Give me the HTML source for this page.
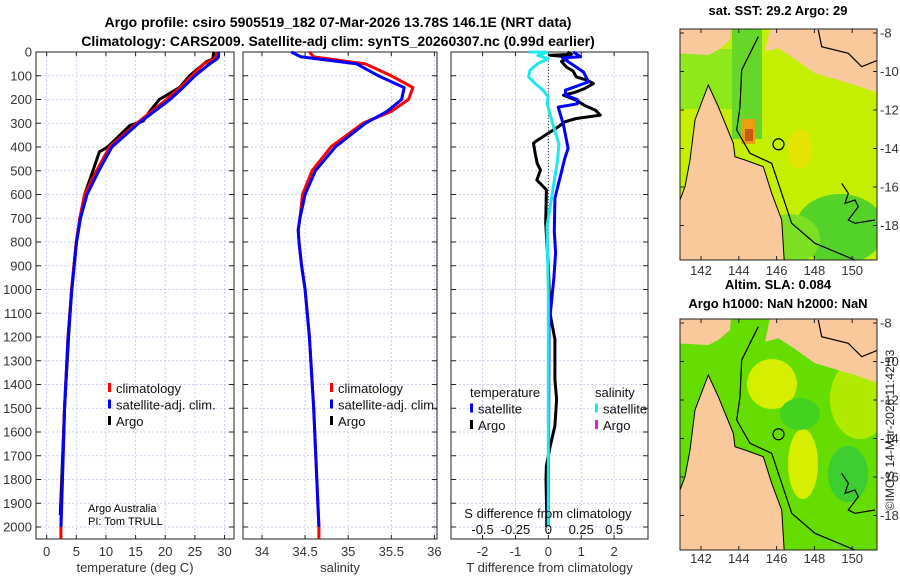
<!DOCTYPE html>
<html><head><meta charset="utf-8"><style>
body{margin:0;background:#fff;}
svg{display:block;font-family:"Liberation Sans","DejaVu Sans",sans-serif;}
</style></head><body>
<svg id="fig" width="900" height="580" viewBox="0 0 900 580" xmlns="http://www.w3.org/2000/svg">
<rect width="900" height="580" fill="#fff"/>
<text x="338" y="27" font-size="14" font-weight="bold" text-anchor="middle">Argo profile: csiro 5905519_182 07-Mar-2026 13.78S 146.1E (NRT data)</text>
<text x="338" y="46" font-size="14" font-weight="bold" text-anchor="middle">Climatology: CARS2009. Satellite-adj clim: synTS_20260307.nc (0.99d earlier)</text>
<g id="p1"></g>
<g id="p2"></g>
<g id="p3"></g>
<g id="maps"></g>
<text x="88" y="512" font-size="11">Argo Australia</text>
<text x="88" y="525" font-size="11">PI: Tom TRULL</text>
<text transform="translate(894,430) rotate(-90)" font-size="12" text-anchor="middle" fill="#222">©IMOS 14-Mar-2026 11:42:53</text>
</svg>
<script>
// ---- data ----
const depthTicks=[0,100,200,300,400,500,600,700,800,900,1000,1100,1200,1300,1400,1500,1600,1700,1800,1900,2000];
const tTicks=[0,5,10,15,20,25,30];
const sTicks=[34,34.5,35,35.5,36];
const sTickLabels=["34","34.5","35","35.5","36"];
const dTTicks=[-2,-1,0,1,2];
const dSTicks=[-0.5,-0.25,0,0.25,0.5];
const dSTickLabels=["-0.5","-0.25","0","0.25","0.5"];
const climTDepth=[0,20,30,50,100,150,200,300,400,500,600,700,800,1000,1200,1500,2000,2050];
const climT=[28.7,28.6,28.2,26.5,24.5,22.5,20.2,15.2,10.6,8.4,6.4,5.6,5.0,4.2,3.6,3.0,2.4,2.4];
const satTDepth=[0,20,30,50,100,150,200,300,400,500,600,700,800,1000,1200,1500,2000];
const satT=[29.0,29.0,28.7,27.5,25.0,23.0,20.8,15.5,11.0,8.8,6.8,5.7,5.05,4.25,3.62,3.02,2.42];
const argoTDepth=[0,30,40,100,150,200,250,290,310,400,420,500,600,700,800,1000,1200,1500,1950];
const argoT=[28.2,28.0,27.0,24.1,22.4,19.0,17.4,16.3,14.0,10.3,8.9,7.8,6.4,5.6,5.0,4.2,3.7,3.0,2.3];
const climSDepth=[0,20,50,100,150,200,250,300,400,500,600,700,750,800,900,1000,1200,1500,2000,2050];
const climS=[34.55,34.6,35.2,35.5,35.75,35.7,35.5,35.17,34.8,34.58,34.47,34.44,34.42,34.43,34.46,34.5,34.55,34.6,34.66,34.66];
const satSDepth=[0,20,50,100,150,200,250,300,400,500,600,700,750,800,900,1000,1200,1500,2000];
const satS=[34.34,34.45,35.1,35.35,35.65,35.62,35.45,35.2,34.85,34.62,34.5,34.44,34.42,34.43,34.46,34.5,34.55,34.6,34.66];
const dTsatDepth=[0,20,25,84,126,161,182,200,218,232,308,406,448,616,756,846,950,1157,1500,2000];
const dTsat=[0.76,0.98,0.43,1.07,1.22,0.52,0.52,0.88,0.88,0.3,0.46,0.6,0.5,0.2,0.18,0.22,0.17,0.02,0.01,0.0];
const dTargoDepth=[0,10,14,21,40,63,80,105,120,133,154,170,182,203,225,245,266,280,294,315,378,385,427,469,497,539,580,720,900,1100,1210,1378,1462,1574,1658,1742,1798,1938,2000];
const dTargo=[0.58,0.7,0.06,0.65,0.4,0.55,0.75,0.85,1.2,1.37,1.1,0.8,0.46,0.85,1.1,1.43,1.58,0.85,0.5,0.3,-0.4,-0.45,-0.4,-0.34,-0.24,-0.35,-0.06,-0.08,0.0,0.05,0.2,0.2,0.25,0.2,0.06,-0.06,-0.07,-0.05,-0.05];
const dSsatDepth=[0,1,15,28,49,77,105,133,161,189,217,315,385,455,595,735,1000,1500,2000];
const dSsat=[-0.15,-0.01,-0.08,0.0,-0.08,-0.14,-0.15,-0.1,-0.04,0.0,-0.01,0.04,0.08,0.07,0.03,-0.01,0.0,0.0,0.0];

const NS="http://www.w3.org/2000/svg";
function mk(tag,attrs,parent){const e=document.createElementNS(NS,tag);for(const k in attrs)e.setAttribute(k,attrs[k]);parent.appendChild(e);return e;}
const Y0=52,YB=539;
const yD=d=>Y0+d*0.2375;
function panel(g,x0,x1,xmin,xmax){
  const sx=v=>x0+(v-xmin)/(xmax-xmin)*(x1-x0);
  return sx;
}
function frame(g,x0,x1,sx,ticks,labels,showDepth,xlabel){
  ticks.forEach((t,i)=>{const x=sx(t);
    const l=mk('line',{x1:x,x2:x,y1:Y0,y2:YB,stroke:'#b8c4ee','stroke-width':0.8,'stroke-dasharray':'2,2'},g);
    
    mk('line',{x1:x,x2:x,y1:Y0,y2:Y0+4,stroke:'#222'},g);mk('line',{x1:x,x2:x,y1:YB,y2:YB-4,stroke:'#222'},g);
    const tx=mk('text',{x:x,y:556,'font-size':13,'text-anchor':'middle',fill:'#333'},g);tx.textContent=labels[i];
    });
  depthTicks.forEach(d=>{const y=yD(d);
    const l=mk('line',{x1:x0,x2:x1,y1:y,y2:y,stroke:'#b8c4ee','stroke-width':0.8,'stroke-dasharray':'2,2'},g);
    
    mk('line',{x1:x0,x2:x0+5,y1:y,y2:y,stroke:'#222'},g);mk('line',{x1:x1,x2:x1-5,y1:y,y2:y,stroke:'#222'},g);
    if(showDepth){const t=mk('text',{x:x0-4,y:y+4.5,'font-size':13,'text-anchor':'end',fill:'#333'},g);t.textContent=d;
      }});
  const r=mk('rect',{x:x0,y:Y0,width:x1-x0,height:YB-Y0,fill:'none',stroke:'#222','stroke-width':1},g);
  
  const xl=mk('text',{x:(x0+x1)/2,y:572,'font-size':13,'text-anchor':'middle',fill:'#333'},g);xl.textContent=xlabel;
  
}
function line(g,sx,ds,vs,col,w,name){
  const p=ds.map((d,i)=>sx(vs[i]).toFixed(1)+','+Math.min(yD(d),YB).toFixed(1)).join(' ');
  const e=mk('polyline',{points:p,fill:'none',stroke:col,'stroke-width':w,'stroke-linejoin':'round'},g);
  
}
function legend(g,x,y,items){
  items.forEach((it,i)=>{const yy=y+i*16.5;
    if(it.c){mk('rect',{x:x,y:yy-9,width:3,height:9,fill:it.c},g);}
    const t=mk('text',{x:x+(it.c?8:0),y:yy+1,'font-size':13,fill:'#111'},g);t.textContent=it.t;
    });
}
// panel 1
const g1=document.getElementById('p1');
const sx1=panel(g1,36,234,-1.8,31.6);
frame(g1,36,234,sx1,tTicks,tTicks.map(String),true,'temperature (deg C)');
line(g1,sx1,argoTDepth,argoT,'#000',3,'argo-temperature-line');
line(g1,sx1,climTDepth,climT,'#f00',3,'climatology-temperature-line');
line(g1,sx1,satTDepth,satT,'#00f',3,'satellite-temperature-line');
legend(g1,108,392,[{c:'#f00',t:'climatology'},{c:'#00f',t:'satellite-adj. clim.'},{c:'#000',t:'Argo'}]);
// panel 2
const g2=document.getElementById('p2');
const sx2=panel(g2,243,437,33.78,36.03);
frame(g2,243,437,sx2,sTicks,sTickLabels,false,'salinity');
line(g2,sx2,climSDepth,climS,'#f00',3,'climatology-salinity-line');
line(g2,sx2,satSDepth,satS,'#00f',3,'satellite-salinity-line');
legend(g2,330,392,[{c:'#f00',t:'climatology'},{c:'#00f',t:'satellite-adj. clim.'},{c:'#000',t:'Argo'}]);
// panel 3
const g3=document.getElementById('p3');
const sx3=panel(g3,451,648,-2.96,3.03);
const sx3s=v=>sx3(v*4);
frame(g3,451,648,sx3,dTTicks,dTTicks.map(String),false,'T difference from climatology');
mk('line',{x1:sx3(0),x2:sx3(0),y1:Y0,y2:YB,stroke:'#333','stroke-width':1,'stroke-dasharray':'1,2'},g3);
line(g3,sx3,dTargoDepth,dTargo,'#000',3,'argo-temperature-difference-line');
line(g3,sx3,dTsatDepth,dTsat,'#00f',3,'satellite-temperature-difference-line');
line(g3,sx3s,dSsatDepth,dSsat,'#1ee8ee',3,'satellite-salinity-difference-line');
legend(g3,470,396,[{t:'temperature'},{c:'#00f',t:'satellite'},{c:'#000',t:'Argo'}]);
legend(g3,595,396,[{t:'salinity'},{c:'#1ee8ee',t:'satellite'},{c:'#e020e0',t:'Argo'}]);
let st=mk('text',{x:548,y:518,'font-size':13,'text-anchor':'middle',fill:'#111'},g3);st.textContent='S difference from climatology';

dSTicks.forEach((t,i)=>{const tx=mk('text',{x:sx3s(t),y:534,'font-size':13,'text-anchor':'middle',fill:'#111'},g3);tx.textContent=dSTickLabels[i];
  });

// ---- maps ----
const lonTicks=[142,144,146,148,150];
const latTicks=[-8,-10,-12,-14,-16,-18];
const M=document.getElementById('maps');
function map(oy,title1,title2,sea){
  const g=mk('g',{},M);
  
  const x0=680,x1=877,y0=oy,y1=oy+231;
  const lx=l=>701+(l-142)*18.9;
  const cid='c'+oy;
  const cp=mk('clipPath',{id:cid},g);mk('rect',{x:x0,y:y0,width:x1-x0,height:y1-y0},cp);
  const inner=mk('g',{'clip-path':'url(#'+cid+')'},g);
  sea(inner,x0,y0);
  const P=(pts)=>pts.map(p=>(675+p[0]/3).toFixed(1)+','+(y0-9+p[1]/3).toFixed(1)).join(' ');
  const land='#f9c99b';
  mk('polygon',{points:P([[0,0],[170,0],[165,60],[130,90],[100,105],[0,100]]),fill:land},inner);
  mk('polygon',{points:P([[290,0],[640,0],[640,230],[540,195],[420,160],[350,110],[310,85],[270,95]]),fill:land},inner);
  mk('polygon',{points:P([[100,195],[130,260],[175,370],[180,410],[210,420],[265,440],[290,520],[320,600],[330,760],[0,760],[0,580],[30,500],[45,420],[60,300]]),fill:land,stroke:'#000','stroke-width':1},inner);
  mk('polyline',{points:P([[250,50],[200,150],[195,260],[185,330],[225,400],[290,430],[350,610],[420,670],[540,720],[640,740]]),fill:'none',stroke:'#000','stroke-width':1.2},inner);
  mk('polyline',{points:P([[430,30],[440,80],[520,100],[560,140],[610,120]]),fill:'none',stroke:'#000','stroke-width':1.2},inner);
  mk('polyline',{points:P([[500,490],[520,520],[510,550],[540,540],[550,560],[520,600],[540,610],[600,600]]),fill:'none',stroke:'#000','stroke-width':1.2},inner);
  lonTicks.forEach(l=>{mk('line',{x1:lx(l),x2:lx(l),y1:y1,y2:y1-4,stroke:'#222'},g);mk('line',{x1:lx(l),x2:lx(l),y1:y0,y2:y0+4,stroke:'#222'},g);});
  latTicks.forEach(l=>{const y=y0+4+(l+8)*-19.25;mk('line',{x1:x0,x2:x0+4,y1:y,y2:y,stroke:'#222'},g);mk('line',{x1:x1,x2:x1-4,y1:y,y2:y,stroke:'#222'},g);
    const t=mk('text',{x:x1+3,y:y+4.5,'font-size':13,fill:'#333'},g);t.textContent=l;
    });
  const c=mk('circle',{cx:lx(146.1),cy:y0+4+(-13.78+8)*-19.25,r:5.5,fill:'none',stroke:'#000','stroke-width':1.2},g);
  
  mk('rect',{x:x0,y:y0,width:x1-x0,height:y1-y0,fill:'none',stroke:'#222'},g);
  const t1=mk('text',{x:778,y:title2?y0-30:y0-14,'font-size':13,'font-weight':'bold','text-anchor':'middle'},g);t1.textContent=title1;
  
  if(title2){const t2=mk('text',{x:778,y:y0-11,'font-size':13,'font-weight':'bold','text-anchor':'middle'},g);t2.textContent=title2;
    }
  return {lx,y1};
}
const m1=map(29,'sat. SST: 29.2 Argo: 29',null,(g,x0,y0)=>{
  mk('rect',{x:x0,y:y0,width:200,height:235,fill:'#c4ef00'},g);
  mk('rect',{x:x0,y:y0+20,width:60,height:60,fill:'#8ee81a'},g);
  mk('rect',{x:732,y:y0,width:30,height:110,fill:'#66d62a'},g);
  mk('ellipse',{cx:840,cy:y0+200,rx:45,ry:35,fill:'#55d22a'},g);
  mk('ellipse',{cx:790,cy:y0+210,rx:30,ry:25,fill:'#7ddf22'},g);
  mk('rect',{x:741,y:y0+90,width:14,height:25,fill:'#e8a010'},g);
  mk('rect',{x:745,y:y0+100,width:8,height:12,fill:'#c85a10'},g);
  mk('ellipse',{cx:800,cy:y0+120,rx:12,ry:20,fill:'#e4e400'},g);
});
const m2=map(319,'Altim. SLA: 0.084','Argo h1000: NaN h2000: NaN',(g,x0,y0)=>{
  mk('rect',{x:x0,y:y0,width:200,height:235,fill:'#66dd00'},g);
  mk('ellipse',{cx:772,cy:y0+65,rx:25,ry:25,fill:'#d6ee00'},g);
  mk('ellipse',{cx:803,cy:y0+145,rx:15,ry:35,fill:'#d6ee00'},g);
  mk('ellipse',{cx:860,cy:y0+80,rx:30,ry:40,fill:'#b0ea00'},g);
  mk('ellipse',{cx:848,cy:y0+155,rx:20,ry:28,fill:'#3ccd30'},g);
  mk('ellipse',{cx:800,cy:y0+95,rx:20,ry:16,fill:'#44d220'},g);
  mk('rect',{x:845,y:y0,width:35,height:30,fill:'#e6ee00'},g);
});
lonTicks.forEach(l=>{const t=mk('text',{x:m1.lx(l),y:275,'font-size':13,'text-anchor':'middle',fill:'#333'},M);t.textContent=l;
  
  const t2=mk('text',{x:m1.lx(l),y:563,'font-size':13,'text-anchor':'middle',fill:'#333'},M);t2.textContent=l;
  });
</script>
</body></html>
